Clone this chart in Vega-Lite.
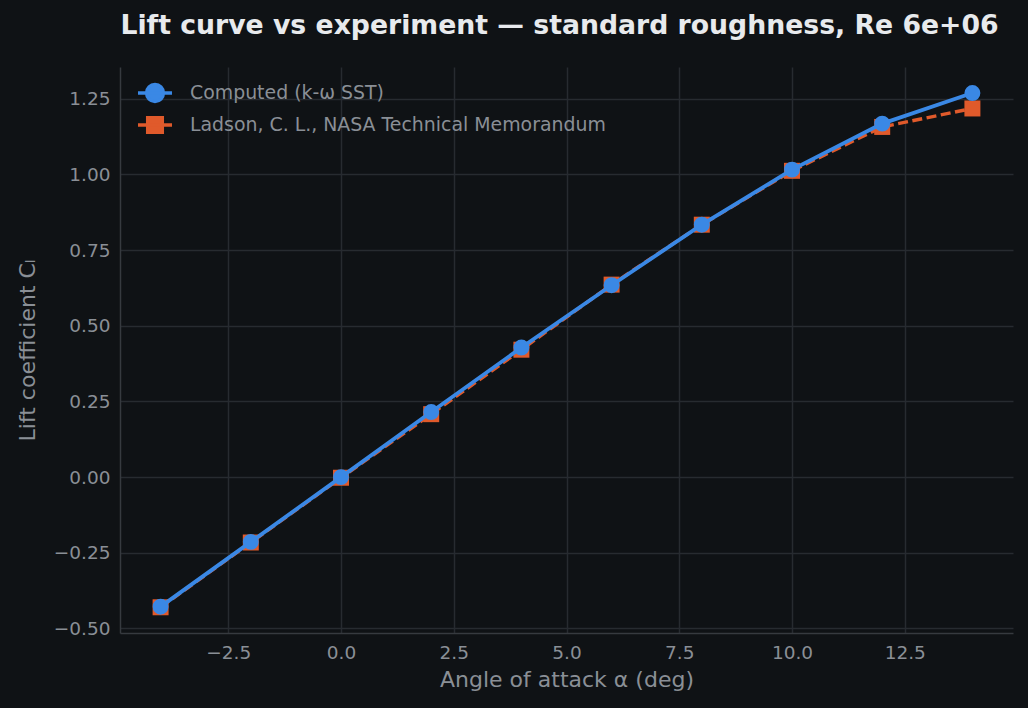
{
  "$schema": "https://vega.github.io/schema/vega-lite/v6.json",
  "width": 893,
  "height": 566,
  "autosize": {"type": "none"},
  "padding": {"left": 120, "top": 67, "right": 15, "bottom": 75},
  "background": "#0f1215",
  "title": {
    "text": "Lift curve vs experiment — standard roughness, Re 6e+06",
    "font": "DejaVu Sans",
    "fontSize": 26.7,
    "fontWeight": "bold",
    "color": "#e8eaed",
    "anchor": "middle",
    "dx": -7,
    "offset": 27
  },
  "data": {
    "values": [
      {"alpha": -4, "cl": -0.428, "series": "Computed (k-ω SST)"},
      {"alpha": -2, "cl": -0.214, "series": "Computed (k-ω SST)"},
      {"alpha": 0, "cl": 0.0, "series": "Computed (k-ω SST)"},
      {"alpha": 2, "cl": 0.215, "series": "Computed (k-ω SST)"},
      {"alpha": 4, "cl": 0.428, "series": "Computed (k-ω SST)"},
      {"alpha": 6, "cl": 0.634, "series": "Computed (k-ω SST)"},
      {"alpha": 8, "cl": 0.834, "series": "Computed (k-ω SST)"},
      {"alpha": 10, "cl": 1.016, "series": "Computed (k-ω SST)"},
      {"alpha": 12, "cl": 1.168, "series": "Computed (k-ω SST)"},
      {"alpha": 14, "cl": 1.269, "series": "Computed (k-ω SST)"},
      {"alpha": -4, "cl": -0.430, "series": "Ladson, C. L., NASA Technical Memorandum"},
      {"alpha": -2, "cl": -0.216, "series": "Ladson, C. L., NASA Technical Memorandum"},
      {"alpha": 0, "cl": -0.002, "series": "Ladson, C. L., NASA Technical Memorandum"},
      {"alpha": 2, "cl": 0.208, "series": "Ladson, C. L., NASA Technical Memorandum"},
      {"alpha": 4, "cl": 0.421, "series": "Ladson, C. L., NASA Technical Memorandum"},
      {"alpha": 6, "cl": 0.636, "series": "Ladson, C. L., NASA Technical Memorandum"},
      {"alpha": 8, "cl": 0.834, "series": "Ladson, C. L., NASA Technical Memorandum"},
      {"alpha": 10, "cl": 1.012, "series": "Ladson, C. L., NASA Technical Memorandum"},
      {"alpha": 12, "cl": 1.157, "series": "Ladson, C. L., NASA Technical Memorandum"},
      {"alpha": 14, "cl": 1.218, "series": "Ladson, C. L., NASA Technical Memorandum"}
    ]
  },
  "encoding": {
    "x": {
      "field": "alpha",
      "type": "quantitative",
      "title": "Angle of attack α (deg)",
      "scale": {"domain": [-4.9, 14.9], "nice": false, "zero": false},
      "axis": {
        "values": [-2.5, 0, 2.5, 5, 7.5, 10, 12.5],
        "format": ".1f",
        "labelPadding": 10,
        "titlePadding": 8
      }
    },
    "y": {
      "field": "cl",
      "type": "quantitative",
      "title": "Lift coefficient Cₗ",
      "scale": {"domain": [-0.515, 1.355], "nice": false, "zero": false},
      "axis": {
        "values": [-0.5, -0.25, 0, 0.25, 0.5, 0.75, 1, 1.25],
        "format": ".2f",
        "labelPadding": 10,
        "titlePadding": 14
      }
    }
  },
  "layer": [
    {
      "mark": {"type": "point", "opacity": 0, "filled": true},
      "encoding": {
        "color": {
          "field": "series",
          "type": "nominal",
          "scale": {
            "domain": ["Computed (k-ω SST)", "Ladson, C. L., NASA Technical Memorandum"],
            "range": ["#3a88e5", "#e05a2b"]
          },
          "legend": {
            "title": null,
            "orient": "none",
            "legendX": 19,
            "legendY": 10,
            "padding": 0,
            "symbolSize": 784,
            "rowPadding": -4,
            "labelOffset": 19,
            "labelFont": "DejaVu Sans",
            "labelFontSize": 18.9,
            "labelColor": "#8a8f96",
            "labelLimit": 700,
            "encode": {
              "symbols": {
                "update": {
                  "fill": {"scale": "color", "field": "value"},
                  "stroke": {"scale": "color", "field": "value"},
                  "strokeWidth": {"value": 3.5},
                  "opacity": {"value": 1}
                }
              }
            }
          }
        },
        "shape": {
          "field": "series",
          "type": "nominal",
          "scale": {
            "domain": ["Computed (k-ω SST)", "Ladson, C. L., NASA Technical Memorandum"],
            "range": [
              "M-1.214,0H1.214M-0.6,0A0.6,0.6 0 1,0 0.6,0A0.6,0.6 0 1,0 -0.6,0Z",
              "M-1.214,0H1.214M-0.52,-0.52H0.52V0.52H-0.52Z"
            ]
          }
        }
      }
    },
    {
      "transform": [{"filter": "datum.series === 'Ladson, C. L., NASA Technical Memorandum'"}],
      "mark": {"type": "line", "color": "#e05a2b", "strokeWidth": 3.4, "strokeDash": [10, 4.5]}
    },
    {
      "transform": [{"filter": "datum.series === 'Ladson, C. L., NASA Technical Memorandum'"}],
      "mark": {"type": "point", "shape": "square", "filled": true, "opacity": 1, "color": "#e05a2b", "size": 256}
    },
    {
      "transform": [{"filter": "datum.series === 'Computed (k-ω SST)'"}],
      "mark": {"type": "line", "color": "#3a88e5", "strokeWidth": 3.8}
    },
    {
      "transform": [{"filter": "datum.series === 'Computed (k-ω SST)'"}],
      "mark": {"type": "point", "shape": "circle", "filled": true, "opacity": 1, "color": "#3a88e5", "size": 254}
    }
  ],
  "config": {
    "view": {"stroke": null},
    "font": "DejaVu Sans",
    "axis": {
      "grid": true,
      "gridColor": "#272b30",
      "gridWidth": 1.5,
      "domainColor": "#363a3f",
      "domainWidth": 1.5,
      "ticks": false,
      "labelFont": "DejaVu Sans",
      "labelFontSize": 18.5,
      "labelColor": "#8a8f96",
      "titleFont": "DejaVu Sans",
      "titleFontSize": 22,
      "titleFontWeight": "normal",
      "titleColor": "#8a8f96",
      "labelFlush": false
    }
  }
}
